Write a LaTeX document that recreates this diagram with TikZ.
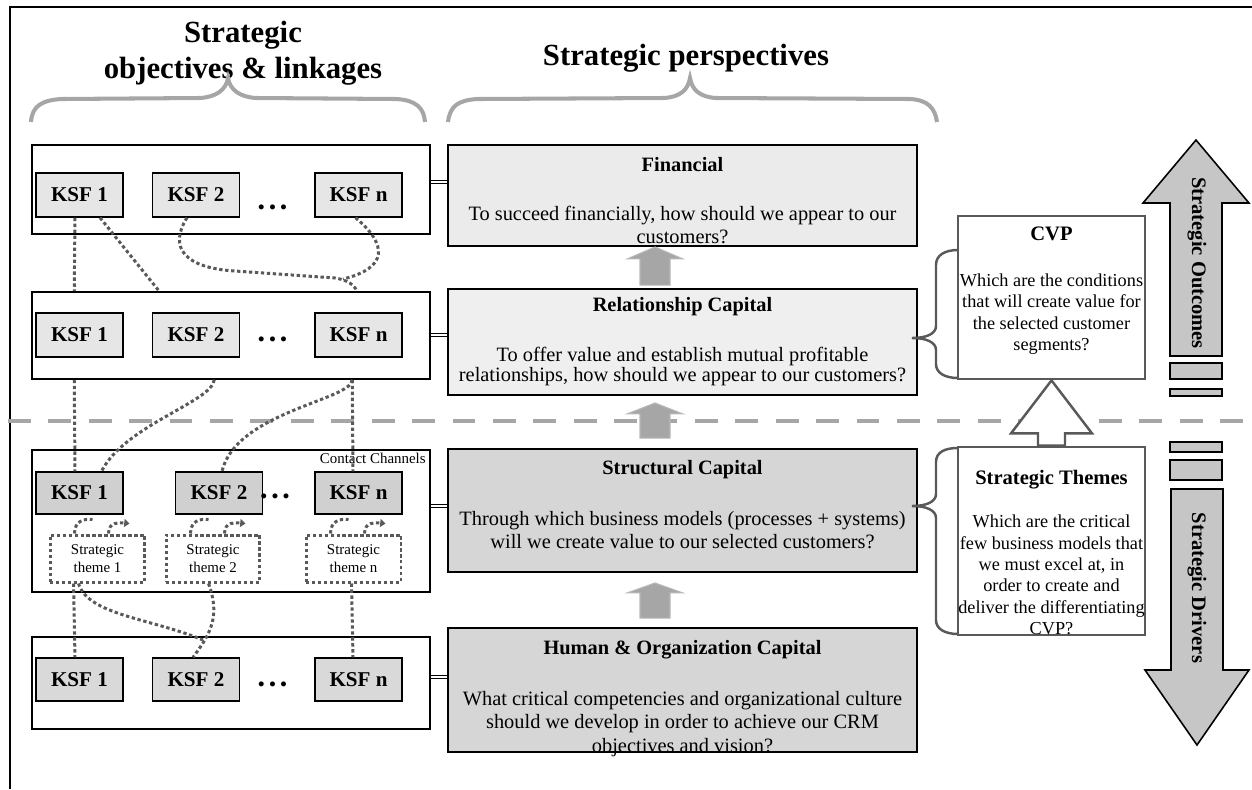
\documentclass[tikz,border=0pt]{standalone}
\usepackage{fontspec}
\setmainfont{Liberation Serif}
\usetikzlibrary{calc,arrows.meta}
\definecolor{dk}{HTML}{595959}
\definecolor{lg}{HTML}{A6A6A6}
\definecolor{ksfA}{HTML}{E6E6E6}
\definecolor{ksfB}{HTML}{D0D0D0}
\definecolor{ksfC}{HTML}{D9D9D9}
\definecolor{finF}{HTML}{EBEBEB}
\definecolor{relF}{HTML}{EFEFEF}
\definecolor{strF}{HTML}{D6D6D6}
\definecolor{bigF}{HTML}{C6C6C6}
% #1 style, #2 tip, #3 base of shaft, #4 head length, #5 head half width, #6 shaft half width
\newcommand\upblock[6]{\draw[#1] ($(#3)+(-#6,0)$) -- ($(#2)+(-#6,#4)$) -- ($(#2)+(-#5,#4)$) -- (#2) -- ($(#2)+(#5,#4)$) -- ($(#2)+(#6,#4)$) -- ($(#3)+(#6,0)$) -- cycle;}
\newcommand\threedots{\textbullet\kern2.6pt\textbullet\kern2.6pt\textbullet}
\begin{document}
\begin{tikzpicture}[x=0.02cm,y=-0.02cm,
 panel/.style={draw=black,line width=0.9pt,fill=white,inner sep=0,minimum width=7.96cm},
 ksf/.style={draw=black,line width=0.8pt,inner sep=0,minimum width=1.74cm,font=\fontsize{12}{14}\selectfont\bfseries},
 dotsn/.style={inner sep=0,font=\fontsize{10.5}{12}\selectfont\bfseries},
 persp/.style={draw=black,line width=1.1pt,inner sep=0,minimum width=9.38cm},
 ptitle/.style={anchor=base,inner sep=0,font=\fontsize{11.6}{14}\selectfont\bfseries},
 pbody/.style={align=center,inner sep=0,font=\fontsize{11.6}{12.8}\selectfont},
 qbox/.style={draw=dk,line width=1.6pt,fill=white,inner sep=0,minimum width=3.74cm},
 qtitle/.style={anchor=base,inner sep=0,font=\fontsize{11.7}{14}\selectfont\bfseries},
 qbody/.style={align=center,inner sep=0,font=\fontsize{10.4}{12.2}\selectfont},
 dotconn/.style={draw=dk,line width=1.7pt,dash pattern=on 1.9pt off 1.5pt},
 thbox/.style={dotconn,inner sep=0,minimum height=0.94cm,align=center,font=\fontsize{8.5}{10.2}\selectfont},
 gbrace/.style={draw=lg,line width=2.3pt},
 rbrace/.style={draw=dk,line width=1.4pt},
 blockarr/.style={fill=lg,draw=lg!80!white,line width=0.6pt},
 bigarr/.style={fill=bigF,draw=black,line width=0.9pt},
 dbl/.style={draw=black,line width=0.55pt,double=white,double distance=1.1pt},
 hdtext/.style={inner sep=0,anchor=base,font=\fontsize{17.5}{20}\selectfont\bfseries},
 vtext/.style={rotate=-90,inner sep=0,font=\fontsize{11.7}{14}\selectfont\bfseries}
]
\useasboundingbox (0,0) rectangle (1252,789);
% frame
\draw[line width=1pt] (10,789) -- (10,7) -- (1252,7);
% headings
\node[hdtext] (h1a) at (243,42) {Strategic};
\node[hdtext] (h1b) at (243,78) {objectives \& linkages};
\node[hdtext] (h2) at (686,65) {Strategic perspectives};
% braces (top)
\draw[gbrace] (31,122) .. controls (32,106) and (42,100) .. (62,99) -- (200,98) .. controls (216,97) and (226,90) .. (228,78) .. controls (230,90) and (240,97) .. (256,98) -- (396,99) .. controls (416,100) and (424,108) .. (425,122);
\draw[gbrace] (448,122) .. controls (450,106) and (458,100) .. (478,99) -- (664,98) .. controls (680,97) and (688,90) .. (690,78) .. controls (692,90) and (700,97) .. (716,98) -- (910,99) .. controls (928,100) and (935,108) .. (937,122);
% dashed separator
\draw[draw=lg,line width=2.3pt,dash pattern=on 13pt off 10pt] (8,421) -- (1252,421);

% panels
\node[panel,minimum height=1.78cm] (P1) at (231,189.5) {};
\node[panel,minimum height=1.74cm] (P2) at (231,335.5) {};
\node[panel,minimum height=2.84cm] (P3) at (231,521) {};
\node[panel,minimum height=1.84cm] (P4) at (231,683) {};
\node[anchor=base east,inner sep=0,font=\fontsize{8.5}{10}\selectfont] (cc) at (426,463) {Contact Channels};

% KSF boxes
\node[ksf,fill=ksfA,minimum height=0.88cm] (k11) at (79.5,195) {KSF 1};
\node[ksf,fill=ksfA,minimum height=0.88cm] (k12) at (196,195) {KSF 2};
\node[ksf,fill=ksfA,minimum height=0.88cm] (k1n) at (358.5,195) {KSF n};
\node[dotsn] (o1) at (272.5,209) {\threedots};
\node[ksf,fill=ksfA,minimum height=0.88cm] (k21) at (79.5,335) {KSF 1};
\node[ksf,fill=ksfA,minimum height=0.88cm] (k22) at (196,335) {KSF 2};
\node[ksf,fill=ksfA,minimum height=0.88cm] (k2n) at (358.5,335) {KSF n};
\node[dotsn] (o2) at (272.5,341.5) {\threedots};
\node[ksf,fill=ksfB,minimum height=0.84cm] (k31) at (79.5,493) {KSF 1};
\node[ksf,fill=ksfB,minimum height=0.84cm] (k32) at (219,493) {KSF 2};
\node[ksf,fill=ksfB,minimum height=0.84cm] (k3n) at (358.5,493) {KSF n};
\node[dotsn] (o3) at (275,498.5) {\threedots};
\node[ksf,fill=ksfC,minimum height=0.86cm] (k41) at (79.5,679.5) {KSF 1};
\node[ksf,fill=ksfC,minimum height=0.86cm] (k42) at (196,679.5) {KSF 2};
\node[ksf,fill=ksfC,minimum height=0.86cm] (k4n) at (358.5,679.5) {KSF n};
\node[dotsn] (o4) at (272.5,686.5) {\threedots};

% strategic theme boxes
\node[thbox,minimum width=1.9cm] (th1) at (97.5,558.5) {Strategic\\theme 1};
\node[thbox,minimum width=1.88cm] (th2) at (213,558.5) {Strategic\\theme 2};
\node[thbox,minimum width=1.9cm] (thn) at (353.5,558.5) {Strategic\\theme n};
\foreach \t in {th1,th2,thn}{
  \draw[dotconn] ($(\t.north west)+(26,0)$) .. controls +(0,-13) and +(-8,-1) .. ($(\t.north west)+(44,-14)$);
  \draw[dotconn,-{Triangle[length=3pt,width=4.5pt]}] ($(\t.north west)+(60,0)$) .. controls +(0,-12) and +(-10,-1) .. ($(\t.north west)+(81,-10)$);
}

% dotted linkages: row 1 -> row 2
\draw[dotconn] ($(k11.south)+(-4.5,0)$) -- ($(P2.north west)+(43,0)$);
\draw[dotconn] ($(k11.south)+(20.5,0)$) -- ($(P2.north west)+(128,0)$);
\draw[dotconn] ($(k12.south)+(-9,0)$) .. controls (168,248) and (185,268) .. (235,271) -- (335,278) .. controls (348,280) and (354,285) .. ($(P2.north west)+(326,0)$);
\coordinate (m1) at (343,279);
\draw[dotconn] ($(k1n.south)+(-3,0)$) .. controls (388,245) and (388,268) .. (m1);
% row 2 -> row 3
\draw[dotconn] ($(P2.south west)+(43,0)$) -- ($(k31.north)+(-4.5,0)$);
\draw[dotconn] ($(P2.south west)+(183,0)$) .. controls (212,402) and (125,425) .. ($(k31.north)+(22,0)$);
\draw[dotconn] ($(P2.south west)+(321,0)$) -- ($(k3n.north)+(-5.5,0)$);
\draw[dotconn] ($(P2.south west)+(321,0)$) .. controls (352,400) and (236,412) .. ($(k32.north)+(3,0)$);
% row 3 -> row 4
\draw[dotconn] ($(th1.south west)+(25,0)$) -- ($(k41.north)+(-4.5,0)$);
\coordinate (m2) at (203,640);
\draw[dotconn] ($(th1.south west)+(30,0)$) .. controls (88,615) and (150,618) .. (m2);
\draw[dotconn] ($(th2.south west)+(44,0)$) .. controls (220,615) and (212,632) .. ($(k42.north)+(-3,0)$);
\draw[dotconn] ($(thn.south west)+(47,0)$) -- ($(k4n.north)+(-5.5,0)$);

% perspective boxes
\node[persp,fill=finF,minimum height=2.02cm] (Fin) at (682.5,195.5) {};
\node[persp,fill=relF,minimum height=2.12cm] (Rel) at (682.5,342) {};
\node[persp,fill=strF,minimum height=2.46cm] (Str) at (682.5,510.5) {};
\node[persp,fill=strF,minimum height=2.48cm] (Hum) at (682.5,690) {};
\node[ptitle] (FinT) at (682.5,171) {Financial};
\node[pbody] (FinB) at (682.5,225) {To succeed financially, how should we appear to our\\customers?};
\node[ptitle] (RelT) at (682.5,311) {Relationship Capital};
\node[pbody,font=\fontsize{11.6}{11.4}\selectfont] (RelB) at (682.5,366) {To offer value and establish mutual profitable\\relationships, how should we appear to our customers?};
\node[ptitle] (StrT) at (682.5,474) {Structural Capital};
\node[pbody] (StrB) at (682.5,530) {Through which business models (processes + systems)\\will we create value to our selected customers?};
\node[ptitle] (HumT) at (682.5,654) {Human \& Organization Capital};
\node[pbody,font=\fontsize{11.6}{13.4}\selectfont] (HumB) at (682.5,724) {What critical competencies and organizational culture\\should we develop in order to achieve our CRM\\objectives and vision?};

% double connectors
\coordinate (d1) at (0,182);
\coordinate (d2) at (0,335);
\coordinate (d3) at (0,506);
\coordinate (d4) at (0,677);
\draw[dbl] (P1.east |- d1) -- (Fin.west |- d1);
\draw[dbl] (P2.east |- d2) -- (Rel.west |- d2);
\draw[dbl] (P3.east |- d3) -- (Str.west |- d3);
\draw[dbl] (P4.east |- d4) -- (Hum.west |- d4);

% gray up arrows between perspectives
\coordinate (a1t) at ($(Fin.south)+(-27.5,0)$);
\coordinate (a1b) at ($(Rel.north)+(-27.5,-3)$);
\upblock{blockarr}{a1t}{a1b}{12}{28}{15}
\coordinate (a2t) at ($(Rel.south)+(-27.5,7)$);
\coordinate (a2b) at ($(Str.north)+(-27.5,-10)$);
\upblock{blockarr}{a2t}{a2b}{11}{28}{15}
\coordinate (a3t) at ($(Str.south)+(-27.5,10)$);
\coordinate (a3b) at ($(Hum.north)+(-27.5,-9)$);
\upblock{blockarr}{a3t}{a3b}{10}{28}{15}

% CVP and strategic themes
\node[qbox,minimum height=3.26cm] (CVP) at (1051.5,297.5) {};
\node[qtitle] (CVPt) at (1051.5,240) {CVP};
\node[qbody] (CVPb) at (1051.5,314) {Which are the conditions\\that will create value for\\the selected customer\\segments?};
\node[qbox,minimum height=3.76cm] (Thm) at (1051.5,541) {};
\node[qtitle] (Thmt) at (1051.5,484) {Strategic Themes};
\node[qbody] (Thmb) at (1051.5,575) {Which are the critical\\few business models that\\we must excel at, in\\order to create and\\deliver the differentiating\\CVP?};
\upblock{draw=dk,line width=1.4pt,fill=white}{CVP.south}{Thm.north}{53}{40.5}{13.5}

% right braces
\draw[rbrace] (958,250) .. controls (945,250) and (936,255) .. (936,265) -- (936,326) .. controls (936,334) and (926,338) .. (912,338) .. controls (926,338) and (936,342) .. (936,350) -- (936,364) .. controls (936,373) and (945,378) .. (958,378);
\draw[rbrace] (958,448) .. controls (945,448) and (936,452) .. (936,462) -- (936,494) .. controls (936,502) and (926,506) .. (912,506) .. controls (926,506) and (936,510) .. (936,518) -- (936,620) .. controls (936,629) and (945,634) .. (958,634);

% big arrows on the right
\coordinate (soT) at (1196,140);
\coordinate (soB) at (1196,356);
\upblock{bigarr}{soT}{soB}{63}{53}{26}
\coordinate (sdT) at (1197,745);
\coordinate (sdB) at (1197,489);
\upblock{bigarr}{sdT}{sdB}{-75}{52}{26}
\draw[bigarr] (1170,363) rectangle (1222,379);
\draw[bigarr] (1170,389) rectangle (1222,396);
\draw[bigarr] (1170,442) rectangle (1222,452);
\draw[bigarr] (1170,460) rectangle (1222,480);
\node[vtext] (so) at (1197,263) {Strategic Outcomes};
\node[vtext] (sd) at (1197,588) {Strategic Drivers};
\end{tikzpicture}
\end{document}
